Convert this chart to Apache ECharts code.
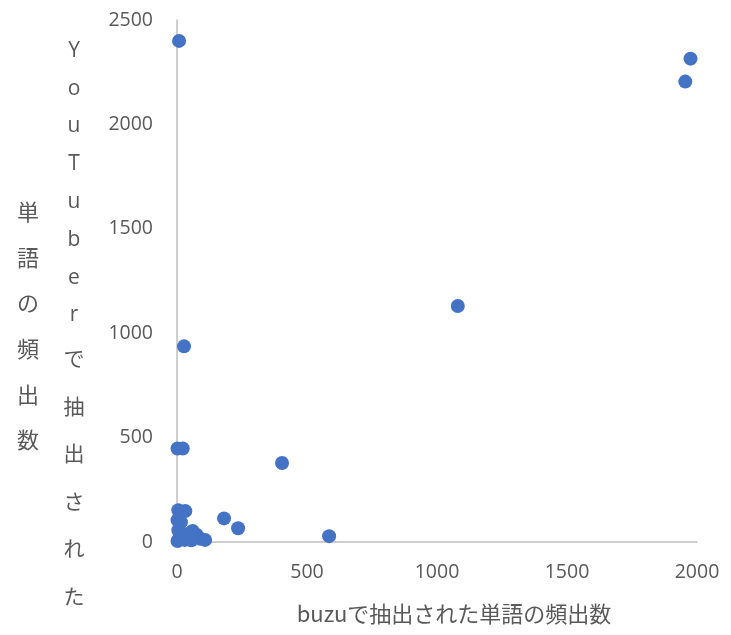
<!DOCTYPE html>
<html>
<head>
<meta charset="utf-8">
<script src="https://cdn.jsdelivr.net/npm/echarts@6/dist/echarts.min.js"></script>
<style>
html,body{margin:0;padding:0;background:#fff;}
#c{width:731px;height:635px;}
</style>
</head>
<body>
<div id="c"></div>
<script>
const xValues = [8, 1975, 1955, 1080, 27, 2, 22, 404, 181, 235, 585,
  5, 32, 2, 15, 5, 10, 40, 60, 75, 90, 108, 30, 2, 55];
const yValues = [2400, 2315, 2205, 1130, 937, 448, 448, 378, 113, 66, 28,
  152, 148, 105, 95, 57, 25, 38, 53, 35, 15, 10, 10, 5, 8];
const xTicks = [0, 500, 1000, 1500, 2000];
const yTicks = [0, 500, 1000, 1500, 2000, 2500];
const xTitle = 'buzuで抽出された単語の頻出数';
const yTitleRight = 'YouTuberで抽出された';
const yTitleLeft = '単語の頻出数';

const points = xValues.map((x, i) => [x, yValues[i]]);
const grey = '#595959';
const font = "'Noto Sans CJK JP', 'Noto Sans', sans-serif";
const numFont = "'Open Sans', 'Noto Sans', sans-serif";

// vertical stacked text: latin chars get a shorter line than CJK chars
function stacked(str) {
  return str.split('').map(ch => (/[\x00-\x7f]/.test(ch) ? '{l|' : '{c|') + ch + '}').join('\n');
}

const chart = echarts.init(document.getElementById('c'));
chart.setOption({
  backgroundColor: '#fff',
  animation: false,
  grid: {left: 177, right: 34, top: 20, bottom: 93},
  xAxis: {
    type: 'value', min: xTicks[0], max: xTicks[xTicks.length - 1], interval: 500,
    splitLine: {show: false},
    axisTick: {show: false},
    axisLine: {show: true, lineStyle: {color: '#BFBFBF', width: 1.5}},
    axisLabel: {color: grey, fontSize: 19.5, margin: 20, fontFamily: numFont,
                formatter: v => String(v)}
  },
  yAxis: {
    type: 'value', min: yTicks[0], max: yTicks[yTicks.length - 1], interval: 500,
    splitLine: {show: false},
    axisTick: {show: false},
    axisLine: {show: true, lineStyle: {color: '#BFBFBF', width: 1.5}},
    axisLabel: {color: grey, fontSize: 19.5, margin: 24, fontFamily: numFont,
                formatter: v => String(v)}
  },
  graphic: [
    {type: 'text', x: 74, y: 32,
     style: {text: stacked(yTitleRight), fill: grey, fontFamily: font, align: 'center',
             verticalAlign: 'top',
             rich: {l: {fontSize: 21, lineHeight: 37.8, fontFamily: numFont, fill: grey, align: 'center'},
                    c: {fontSize: 21, lineHeight: 47.5, fontFamily: font, fill: grey, align: 'center'}}}},
    {type: 'text', x: 28, y: 189,
     style: {text: stacked(yTitleLeft), fill: grey, fontFamily: font, align: 'center',
             verticalAlign: 'top',
             rich: {c: {fontSize: 22, lineHeight: 45.6, fontFamily: font, fill: grey, align: 'center'}}}},
    {type: 'text', x: 454, y: 614,
     style: {text: xTitle, fill: grey, fontSize: 22, fontFamily: font,
             align: 'center', verticalAlign: 'middle'}}
  ],
  series: [{
    type: 'scatter',
    data: points,
    symbolSize: 14,
    itemStyle: {color: '#4472C4', opacity: 1}
  }]
});
</script>
</body>
</html>
